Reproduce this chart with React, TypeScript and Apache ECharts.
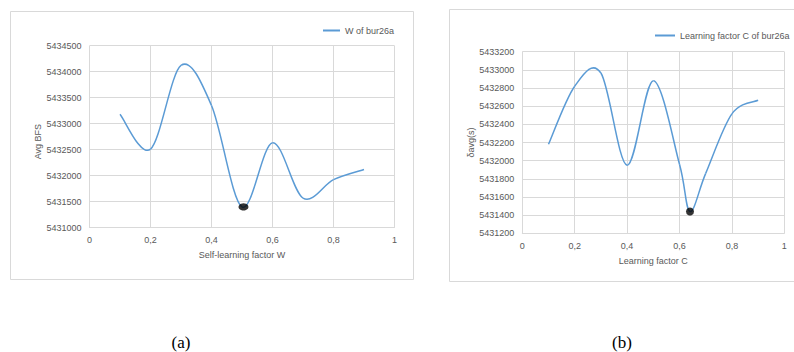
import React, { useEffect, useRef } from "react";
import * as echarts from "echarts";

// Chart (a): self-learning factor W
const xA = [0.1, 0.2, 0.3, 0.4, 0.5, 0.6, 0.7, 0.8, 0.9];
const yA = [5433180, 5432510, 5434120, 5433350, 5431400, 5432635, 5431570, 5431925, 5432120];
const minA = [0.505, 5431400];
const nameA = "W of bur26a";

// Chart (b): learning factor C
const xB = [0.1, 0.2, 0.3, 0.4, 0.5, 0.6, 0.64, 0.7, 0.8, 0.9];
const yB = [5432180, 5432820, 5432965, 5431950, 5432880, 5431960, 5431440, 5431860, 5432515, 5432665];
const minB = [0.64, 5431440];
const nameB = "Learning factor C of bur26a";

const xTicks = [0, 0.2, 0.4, 0.6, 0.8, 1];
const yRangeA = [5431000, 5434500, 500];
const yRangeB = [5431200, 5433200, 200];

const FONT = "Liberation Sans";
const GRAY = "#595959";
const GRID = "#d9d9d9";
const BLUE = "#5b9bd5";

const fmtX = (v: number) => String(Math.round(v * 10) / 10).replace(".", ",");
const fmtY = (v: number) => String(v);

// Smooth (Catmull-Rom style) segment between data points, placed through the axis scales
const smoothSegment = (xs: number[], ys: number[]) => (params: any, api: any) => {
  const i = params.dataIndex;
  const n = xs.length;
  if (i >= n - 1) return null;
  const c = (k: number) => {
    const j = Math.max(0, Math.min(n - 1, k));
    return api.coord([xs[j], ys[j]]);
  };
  const P0 = c(i - 1);
  const P1 = c(i);
  const P2 = c(i + 1);
  const P3 = c(i + 2);
  return {
    type: "bezierCurve",
    shape: {
      x1: P1[0],
      y1: P1[1],
      x2: P2[0],
      y2: P2[1],
      cpx1: P1[0] + (P2[0] - P0[0]) / 6,
      cpy1: P1[1] + (P2[1] - P0[1]) / 6,
      cpx2: P2[0] - (P3[0] - P1[0]) / 6,
      cpy2: P2[1] - (P3[1] - P1[1]) / 6,
    },
    style: { stroke: BLUE, lineWidth: 1.5, fill: "none" },
  };
};

export default function App() {
  const ref = useRef<HTMLDivElement>(null);
  useEffect(() => {
    document.body.style.margin = "0";
    const chart = echarts.init(ref.current!, null, { renderer: "svg" });
    const xAxisBase = (gridIndex: number, name: string) => ({
      type: "value",
      gridIndex,
      min: xTicks[0],
      max: xTicks[xTicks.length - 1],
      interval: 0.2,
      name,
      nameLocation: "middle",
      nameGap: 23,
      nameTextStyle: { fontFamily: FONT, fontSize: 9, color: GRAY },
      axisLine: { show: true, lineStyle: { color: GRID, width: 1 } },
      axisTick: { show: false },
      splitLine: { show: true, lineStyle: { color: GRID, width: 1 } },
      axisLabel: { formatter: fmtX, fontFamily: FONT, fontSize: 9, color: GRAY, margin: 8 },
    });
    const yAxisBase = (gridIndex: number, name: string, r: number[], gap: number, pad: number[]) => ({
      type: "value",
      gridIndex,
      min: r[0],
      max: r[1],
      interval: r[2],
      name,
      nameLocation: "middle",
      nameGap: gap,
      nameTextStyle: { fontFamily: FONT, fontSize: 9, color: GRAY, padding: pad },
      axisLine: { show: false },
      axisTick: { show: false },
      splitLine: { show: true, lineStyle: { color: GRID, width: 1 } },
      axisLabel: { formatter: fmtY, fontFamily: FONT, fontSize: 9, color: GRAY, margin: 8 },
    });
    chart.setOption({
      animation: false,
      grid: [
        { left: 89.5, top: 45.7, width: 305, height: 182 },
        { left: 522.3, top: 51.7, width: 262, height: 181.6 },
      ],
      xAxis: [xAxisBase(0, "Self-learning factor W"), xAxisBase(1, "Learning factor C")],
      yAxis: [
        yAxisBase(0, "Avg BFS", yRangeA, 41, [0, 10, 0, 0]),
        yAxisBase(1, "δavg(s)", yRangeB, 40, [0, 0, 0, 0]),
      ],
      legend: [
        {
          data: [nameA],
          left: 318,
          top: 21,
          icon: "rect",
          itemWidth: 17,
          itemHeight: 2,
          textStyle: { fontFamily: FONT, fontSize: 9, color: GRAY },
        },
        {
          data: [nameB],
          left: 650,
          top: 26,
          icon: "rect",
          itemWidth: 20,
          itemHeight: 2,
          textStyle: { fontFamily: FONT, fontSize: 9, color: GRAY },
        },
      ],
      graphic: [
        {
          type: "rect",
          shape: { x: 10.5, y: 11.5, width: 403, height: 268 },
          style: { fill: "none", stroke: GRID, lineWidth: 1 },
          silent: true,
        },
        {
          type: "rect",
          shape: { x: 449.5, y: 9.5, width: 350, height: 272 },
          style: { fill: "none", stroke: GRID, lineWidth: 1 },
          silent: true,
        },
        {
          type: "text",
          x: 181,
          y: 342,
          style: { text: "(a)", font: '17px "Liberation Serif"', fill: "#000", align: "center", verticalAlign: "middle" },
        },
        {
          type: "text",
          x: 622,
          y: 342,
          style: { text: "(b)", font: '17px "Liberation Serif"', fill: "#000", align: "center", verticalAlign: "middle" },
        },
      ],
      series: [
        {
          name: nameA,
          type: "custom",
          xAxisIndex: 0,
          yAxisIndex: 0,
          renderItem: smoothSegment(xA, yA),
          encode: { x: 0, y: 1 },
          data: xA.map((x, i) => [x, yA[i]]),
          itemStyle: { color: BLUE },
        },
        {
          name: "min a",
          type: "scatter",
          xAxisIndex: 0,
          yAxisIndex: 0,
          symbol: "circle",
          symbolSize: [10, 7],
          data: [minA],
          itemStyle: { color: "#000" },
        },
        {
          name: nameB,
          type: "custom",
          xAxisIndex: 1,
          yAxisIndex: 1,
          renderItem: smoothSegment(xB, yB),
          encode: { x: 0, y: 1 },
          data: xB.map((x, i) => [x, yB[i]]),
          itemStyle: { color: BLUE },
        },
        {
          name: "min b",
          type: "scatter",
          xAxisIndex: 1,
          yAxisIndex: 1,
          symbol: "circle",
          symbolSize: 8,
          data: [minB],
          itemStyle: { color: "#000" },
        },
      ],
    });
    return () => chart.dispose();
  }, []);
  return <div ref={ref} style={{ width: 794, height: 352 }} />;
}
